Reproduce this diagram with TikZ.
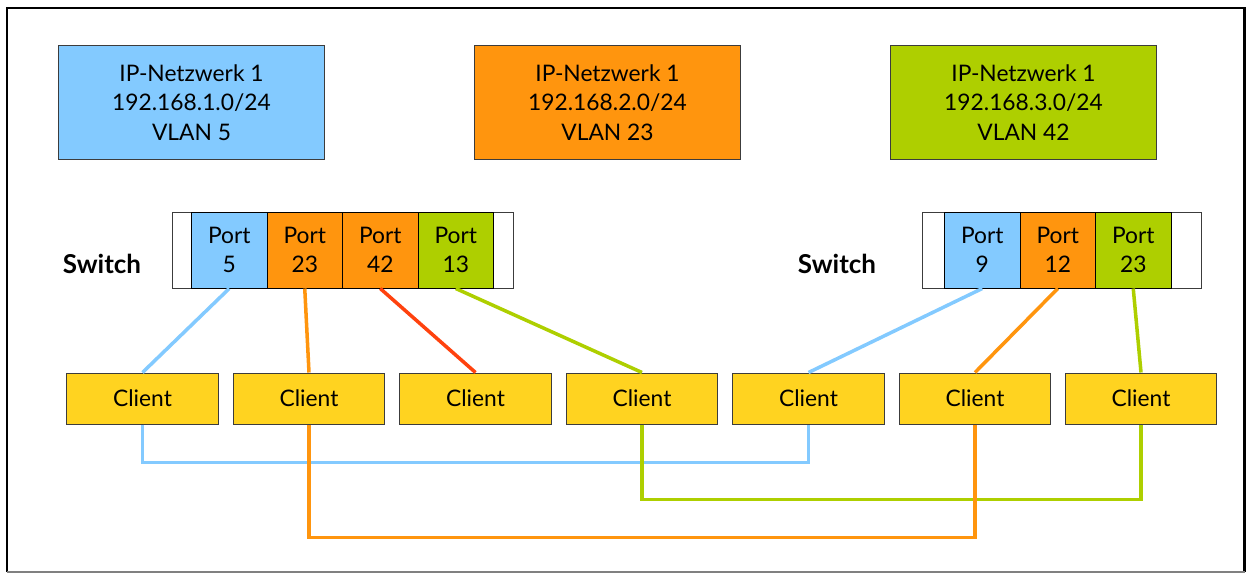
\documentclass[tikz,border=0pt]{standalone}
\usepackage{fontspec}
\setmainfont{Lato}
\usetikzlibrary{positioning}
\definecolor{LO_Blue}{HTML}{83CAFF}
\definecolor{LO_Orange}{HTML}{FF950E}
\definecolor{LO_Red}{HTML}{FF420E}
\definecolor{LO_Green}{HTML}{AECF00}
\definecolor{LO_Yellow}{HTML}{FFD320}
\definecolor{BoxEdge}{HTML}{3C3C3C}

\begin{document}
\begin{tikzpicture}[x=0.025cm, y=-0.025cm,
  every node/.style={font=\fontsize{16.2}{21}\selectfont, inner sep=0pt},
  netbox/.style={draw=BoxEdge, line width=0.7pt, minimum width=6.625cm, minimum height=2.825cm, align=center},
  portbox/.style={draw=black, line width=0.7pt, minimum width=1.8875cm, minimum height=1.9cm, align=center},
  housing/.style={draw=BoxEdge, line width=0.7pt, fill=white, minimum height=1.9cm},
  client/.style={draw=BoxEdge, fill=LO_Yellow, line width=0.7pt, minimum width=3.79cm, minimum height=1.275cm},
  swlabel/.style={font=\fontsize{18.5}{21}\selectfont\bfseries},
  link/.style={line width=2.5pt}
]
\useasboundingbox (0,0) rectangle (1247,574);
% --- outer frame ---
\draw[line width=2.1pt] (7,572) -- (7,8) -- (1244.5,8) -- (1244.5,572);
\draw[gray, line width=0.8pt] (7,572) -- (1244.5,572);

% --- IP networks ---
\node[netbox, fill=LO_Blue] (net1) at (191.5,102.5) {IP-Netzwerk 1\\192.168.1.0/24\\VLAN 5};
\node[netbox, fill=LO_Orange] (net2) at (607.5,102.5) {IP-Netzwerk 1\\192.168.2.0/24\\VLAN 23};
\node[netbox, fill=LO_Green] (net3) at (1023.5,102.5) {IP-Netzwerk 1\\192.168.3.0/24\\VLAN 42};

% --- switch 1 ---
\node[swlabel] (sw1) at (102,264) {Switch};
\node[housing, minimum width=8.5cm] (box1) at (343,250) {};
\node[portbox, fill=LO_Blue] (p5) at (229.25,250) {Port\\5};
\node[portbox, fill=LO_Orange] (p23) at (304.75,250) {Port\\23};
\node[portbox, fill=LO_Orange] (p42) at (380.25,250) {Port\\42};
\node[portbox, fill=LO_Green] (p13) at (455.75,250) {Port\\13};

% --- switch 2 ---
\node[swlabel] (sw2) at (837,264) {Switch};
\node[housing, minimum width=6.95cm] (box2) at (1062,250) {};
\node[portbox, fill=LO_Blue] (p9) at (982.25,250) {Port\\9};
\node[portbox, fill=LO_Orange] (p12) at (1057.75,250) {Port\\12};
\node[portbox, fill=LO_Green] (p23b) at (1133.25,250) {Port\\23};

% --- clients ---
\node[client] (c1) at (142.5,398.5) {Client};
\node[client] (c2) at (309,398.5) {Client};
\node[client] (c3) at (475.5,398.5) {Client};
\node[client] (c4) at (642,398.5) {Client};
\node[client] (c5) at (808.5,398.5) {Client};
\node[client] (c6) at (975,398.5) {Client};
\node[client] (c7) at (1141,398.5) {Client};

% --- ports to clients ---
\draw[link, LO_Blue] (p5.south) -- (c1.north);
\draw[link, LO_Orange] (p23.south) -- (c2.north);
\draw[link, LO_Red] (p42.south) -- (c3.north);
\draw[link, LO_Green] (p13.south) -- (c4.north);
\draw[link, LO_Blue] (p9.south) -- (c5.north);
\draw[link, LO_Orange] (p12.south) -- (c6.north);
\draw[link, LO_Green] (p23b.south) -- (c7.north);

% --- clients across the switches ---
\draw[link, LO_Blue] (c1.south) -- ++(0,38) -| (c5.south);
\draw[link, LO_Green] (c4.south) -- ++(0,75) -| (c7.south);
\draw[link, LO_Orange] (c2.south) -- ++(0,113) -| (c6.south);
\end{tikzpicture}
\end{document}
